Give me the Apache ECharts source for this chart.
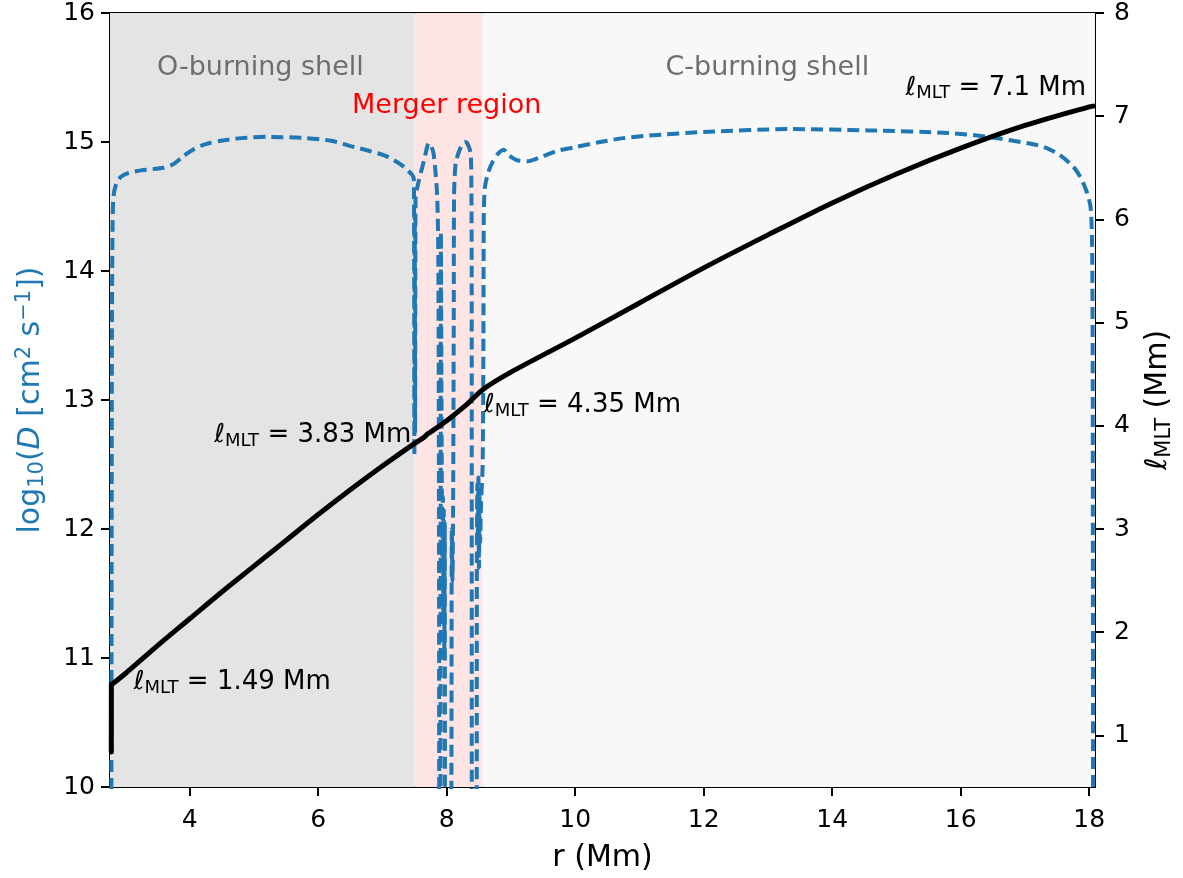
<!DOCTYPE html>
<html>
<head>
<meta charset="utf-8">
<script src="https://cdn.jsdelivr.net/npm/echarts@6/dist/echarts.min.js"></script>
<style>html,body{margin:0;padding:0;background:#fff}#c{width:1183px;height:878px}</style>
</head>
<body>
<div id="c"></div>
<script>
// ---- data ----
const rD = [2.780,2.790,2.800,2.815,2.86,2.93,3.05,3.24,3.59,3.75,3.90,4.05,4.17,4.30,4.48,4.80,5.20,5.82,6.20,6.49,6.80,7.06,7.30,7.47,
  7.490,7.497,7.503,7.509,7.515,7.525,7.566,7.644,7.700,7.721,7.760,7.799,7.850,7.870,7.880,7.888,7.900,7.910,7.918,7.925,7.932,7.940,7.948,7.955,7.962,7.970,7.978,
  8.060,8.080,8.090,8.100,8.110,8.115,8.141,8.219,8.280,8.321,8.373,8.385,8.389,8.393,8.465,8.470,8.478,8.486,8.494,8.502,8.510,8.520,8.535,8.560,8.572,8.578,
  8.595,8.650,8.719,8.800,8.889,8.960,9.091,9.250,9.338,9.50,9.710,10.00,10.39,10.75,11.15,12.08,13.32,14.57,15.81,16.43,17.05,17.30,17.54,17.75,17.86,17.95,18.02,18.045,18.055,18.06];
const logD = [9.0,13.5,14.35,14.58,14.68,14.73,14.76,14.78,14.80,14.83,14.89,14.94,14.97,14.99,15.01,15.03,15.04,15.03,15.01,14.97,14.93,14.89,14.82,14.74,
  14.70,12.57,14.45,12.75,14.55,14.60,14.70,14.85,14.97,14.99,14.97,14.90,14.60,14.10,12.0,9.0,9.0,14.30,13.2,12.3,11.7,12.25,11.3,12.15,11.0,12.05,9.0,
  9.0,12.0,11.6,12.2,13.6,14.58,14.84,14.96,15.00,14.99,14.91,14.60,14.0,9.0,9.0,11.8,12.35,11.9,12.4,11.7,12.3,11.9,12.2,12.5,13.5,14.45,
  14.65,14.77,14.85,14.91,14.94,14.90,14.86,14.85,14.86,14.89,14.93,14.96,15.00,15.03,15.05,15.08,15.10,15.09,15.07,15.04,14.99,14.96,14.90,14.81,14.73,14.63,14.50,14.2,13.0,9.0];
const rL = [2.780,2.781,3.0,3.5,4.0,4.5,5.0,5.5,6.0,6.5,7.0,7.5,7.65,7.70,7.75,8.0,8.3,8.56,9.0,10,11,12,13,14,15,16,17,18,18.09];
const lMLT = [0.84,1.49,1.60,1.87,2.13,2.39,2.64,2.89,3.14,3.38,3.61,3.83,3.89,3.92,3.94,4.05,4.20,4.35,4.52,4.85,5.19,5.53,5.85,6.16,6.44,6.69,6.91,7.09,7.10];
const xTicks = [4,6,8,10,12,14,16,18];
const leftTicks = [10,11,12,13,14,15,16];
const rightTicks = [1,2,3,4,5,6,7,8];
const regionEdges = [2.76, 7.5, 8.56, 18.09];
const regionNames = ['O-burning shell', 'Merger region', 'C-burning shell'];
const regionLabelPos = [[5.1, 15.57], [8.0, 15.28], [12.99, 15.57]];
const mltLabels = ['7.1', '4.35', '3.83', '1.49'];
const mltLabelPos = [[17.95, 15.42], [8.58, 12.96], [7.45, 12.73], [3.13, 10.81]];

const FF = 'DejaVu Sans';
const chart = echarts.init(document.getElementById('c'));

const zip = (a, b) => a.map((v, i) => [v, b[i]]);
const lineL = zip(rL, lMLT);
const mltRich = {
  l: {fontFamily: FF, fontSize: 26, fontStyle: 'italic', color: '#000', lineHeight: 30},
  s: {fontFamily: FF, fontSize: 18, color: '#000', verticalAlign: 'bottom', lineHeight: 14},
  t: {fontFamily: FF, fontSize: 26, color: '#000', lineHeight: 30}
};
const positions = ['left', 'right', 'left', 'right'];

const option = {
  animation: false,
  backgroundColor: '#fff',
  grid: {left: 110, right: 84, top: 13, bottom: 91, containLabel: false},
  xAxis: [{
    type: 'value', min: 2.76, max: 18.09,
    name: 'r (Mm)', nameLocation: 'middle', nameGap: 56,
    nameTextStyle: {fontFamily: FF, fontSize: 30, color: '#000'},
    axisLine: {show: true, onZero: false, lineStyle: {color: '#000', width: 2}},
    axisTick: {show: true, length: 9, lineStyle: {color: '#000', width: 2}, customValues: xTicks},
    axisLabel: {fontFamily: FF, fontSize: 25, color: '#000', margin: 21, customValues: xTicks},
    splitLine: {show: false}
  }, {
    type: 'value', position: 'top', min: 2.76, max: 18.09,
    axisLine: {show: true, onZero: false, lineStyle: {color: '#000', width: 2}},
    axisTick: {show: false}, axisLabel: {show: false}, splitLine: {show: false}
  }],
  yAxis: [{
    type: 'value', min: 10, max: 16, interval: 1, position: 'left',
    name: '{n|log}{sub|10}{n|(}{i|D}{n| [cm}{sup|2}{n| s}{sup|−1}{n|])}',
    nameLocation: 'middle', nameGap: 62, nameRotate: 90,
    nameTextStyle: {
      rich: {
        n: {fontFamily: FF, fontSize: 30, color: '#1f77b4', lineHeight: 34},
        i: {fontFamily: FF, fontSize: 30, fontStyle: 'italic', color: '#1f77b4', lineHeight: 34},
        sub: {fontFamily: FF, fontSize: 21, color: '#1f77b4', verticalAlign: 'bottom', lineHeight: 16},
        sup: {fontFamily: FF, fontSize: 21, color: '#1f77b4', verticalAlign: 'top', lineHeight: 14}
      }
    },
    axisLine: {show: true, onZero: false, lineStyle: {color: '#000', width: 2}},
    axisTick: {show: true, length: 9, lineStyle: {color: '#000', width: 2}, customValues: leftTicks},
    axisLabel: {fontFamily: FF, fontSize: 25, color: '#000', margin: 15, customValues: leftTicks},
    splitLine: {show: false}
  }, {
    type: 'value', min: 0.5, max: 8, position: 'right', alignTicks: false,
    name: '{l|ℓ}{s|MLT}{t| (Mm)}',
    nameLocation: 'middle', nameGap: 46, nameRotate: 90,
    nameTextStyle: {
      rich: {
        l: {fontFamily: FF, fontSize: 30, fontStyle: 'italic', color: '#000', lineHeight: 34},
        s: {fontFamily: FF, fontSize: 21, color: '#000', verticalAlign: 'bottom', lineHeight: 16},
        t: {fontFamily: FF, fontSize: 30, color: '#000', lineHeight: 34}
      }
    },
    axisLine: {show: true, onZero: false, lineStyle: {color: '#000', width: 2}},
    axisTick: {show: true, length: 9, lineStyle: {color: '#000', width: 2}, customValues: rightTicks},
    axisLabel: {fontFamily: FF, fontSize: 25, color: '#000', margin: 19, customValues: rightTicks},
    splitLine: {show: false}
  }],
  series: [{
    name: 'D', type: 'line', xAxisIndex: 0, yAxisIndex: 0,
    data: zip(rD, logD), showSymbol: false, symbol: 'none',
    smooth: 0.25,
    lineStyle: {color: '#1f77b4', width: 4, type: [12, 6]},
    z: 3,
    markArea: {
      silent: true,
      data: [
        [{xAxis: regionEdges[0], itemStyle: {color: '#e4e4e4'}}, {xAxis: regionEdges[1]}],
        [{xAxis: regionEdges[1], itemStyle: {color: '#ffe4e4'}}, {xAxis: regionEdges[2]}],
        [{xAxis: regionEdges[2], itemStyle: {color: '#f8f8f9'}}, {xAxis: regionEdges[3]}]
      ],
      label: {show: false}
    },
    markPoint: {
      silent: true, symbol: 'circle', symbolSize: 0,
      data: regionNames.map((n, i) => ({
        coord: regionLabelPos[i],
        label: {show: true, position: 'inside', formatter: n, fontFamily: FF, fontSize: 27,
                color: i === 1 ? '#ff0000' : '#6e6e6e'}
      })).concat(mltLabels.map((v, i) => ({
        coord: mltLabelPos[i],
        label: {show: true, position: positions[i], distance: 0,
                formatter: '{l|ℓ}{s|MLT}{t| = ' + v + ' Mm}', rich: mltRich}
      })))
    }
  }, {
    name: 'lMLT-inner', type: 'line', xAxisIndex: 0, yAxisIndex: 1,
    data: lineL.slice(0, 2), showSymbol: false, symbol: 'none', smooth: false,
    lineStyle: {color: '#000', width: 5, cap: 'round'},
    z: 4
  }, {
    name: 'lMLT', type: 'line', xAxisIndex: 0, yAxisIndex: 1,
    data: lineL.slice(1), showSymbol: false, symbol: 'none', smooth: 0.3,
    lineStyle: {color: '#000', width: 5},
    z: 4
  }]
};
chart.setOption(option);
</script>
</body>
</html>
